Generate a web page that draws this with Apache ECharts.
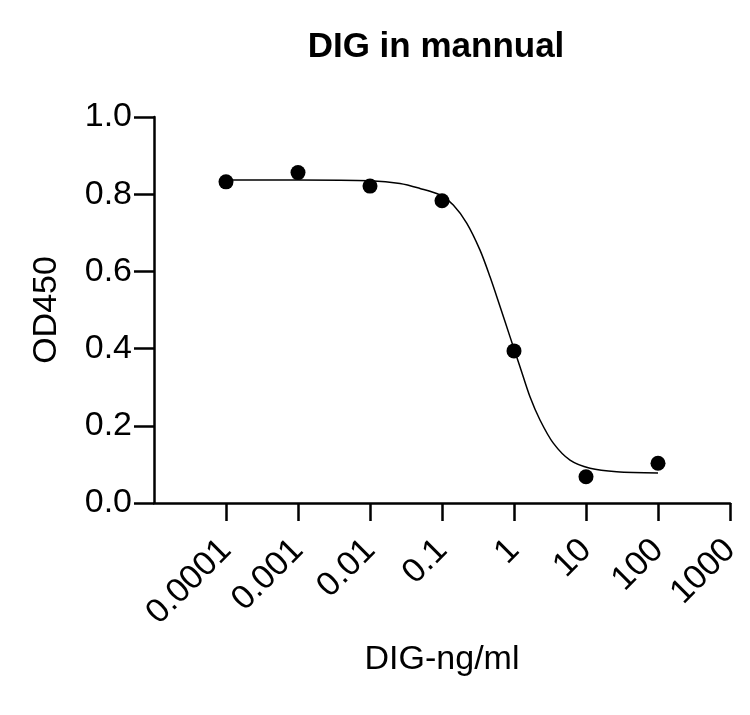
<!DOCTYPE html>
<html>
<head>
<meta charset="utf-8">
<script src="https://cdn.jsdelivr.net/npm/echarts@6/dist/echarts.min.js"></script>
<style>
html,body{margin:0;padding:0;background:#fff;}
#chart{width:750px;height:715px;}
</style>
</head>
<body>
<div id="chart"></div>
<script>
var titleText = 'DIG in mannual';
var xAxisName = 'DIG-ng/ml';
var yAxisName = 'OD450';

// measured points (concentration, OD450)
var pointX = [0.0001, 0.001, 0.01, 0.1, 1, 10, 100];
var pointY = [0.832, 0.856, 0.821, 0.783, 0.394, 0.068, 0.103];

// fitted curve
var curveX = [0.0001, 0.001, 0.01, 0.0261, 0.0494, 0.0938, 0.1435, 0.2203, 0.3373, 0.4645, 0.6397, 0.879, 1.211, 1.667, 2.296, 3.516, 5.998, 11.38, 26.67, 100];
var curveY = [0.837, 0.837, 0.835, 0.828, 0.815, 0.798, 0.772, 0.725, 0.655, 0.586, 0.509, 0.431, 0.353, 0.275, 0.215, 0.155, 0.111, 0.090, 0.081, 0.078];

var xTickValues = [0.0001, 0.001, 0.01, 0.1, 1, 10, 100, 1000];
var xTickLabels = ['0.0001', '0.001', '0.01', '0.1', '1', '10', '100', '1000'];
var yTickLabels = ['0.0', '0.2', '0.4', '0.6', '0.8', '1.0'];

function zip(a, b) { return a.map(function (v, i) { return [v, b[i]]; }); }

var FONT = '"Liberation Sans", Arial, sans-serif';
var chart = echarts.init(document.getElementById('chart'));
chart.setOption({
  animation: false,
  backgroundColor: '#fff',
  title: {
    text: titleText, left: 436, top: 30, textAlign: 'center', padding: 0,
    textStyle: { fontFamily: FONT, fontSize: 35, fontWeight: 'bold', color: '#000' }
  },
  grid: { left: 154, top: 117, width: 576, height: 386, containLabel: false },
  xAxis: {
    type: 'log', logBase: 10, min: 0.00001, max: 1000,
    name: xAxisName, nameLocation: 'middle', nameGap: 140,
    nameTextStyle: { fontFamily: FONT, fontSize: 34, color: '#000' },
    axisLine: { show: true, lineStyle: { color: '#000', width: 2.5 } },
    axisTick: { show: true, length: 18, lineStyle: { color: '#000', width: 2.5 }, customValues: xTickValues },
    axisLabel: {
      customValues: xTickValues, rotate: 45, margin: 42,
      fontFamily: FONT, fontSize: 34, color: '#000',
      formatter: function (v) {
        var i = Math.round(Math.log(v) / Math.LN10) + 4;
        return xTickLabels[i] !== undefined ? xTickLabels[i] : '';
      }
    },
    splitLine: { show: false },
    minorTick: { show: false }
  },
  yAxis: {
    type: 'value', min: 0, max: 1, interval: 0.2,
    name: yAxisName, nameLocation: 'middle', nameGap: 90, nameRotate: 90,
    nameTextStyle: { fontFamily: FONT, fontSize: 34, color: '#000' },
    axisLine: { show: true, lineStyle: { color: '#000', width: 2.5 } },
    axisTick: { show: true, length: 20, lineStyle: { color: '#000', width: 2.5 } },
    axisLabel: {
      margin: 22, fontFamily: FONT, fontSize: 34, color: '#000',
      formatter: function (v) { return yTickLabels[Math.round(v * 5)]; }
    },
    splitLine: { show: false }
  },
  series: [
    {
      type: 'line', data: zip(curveX, curveY), smooth: 0.3, showSymbol: false,
      lineStyle: { color: '#000', width: 1.5 }, silent: true, z: 2
    },
    {
      type: 'scatter', data: zip(pointX, pointY), symbol: 'circle', symbolSize: 15,
      itemStyle: { color: '#000', opacity: 1 }, z: 3
    }
  ]
});
</script>
</body>
</html>
